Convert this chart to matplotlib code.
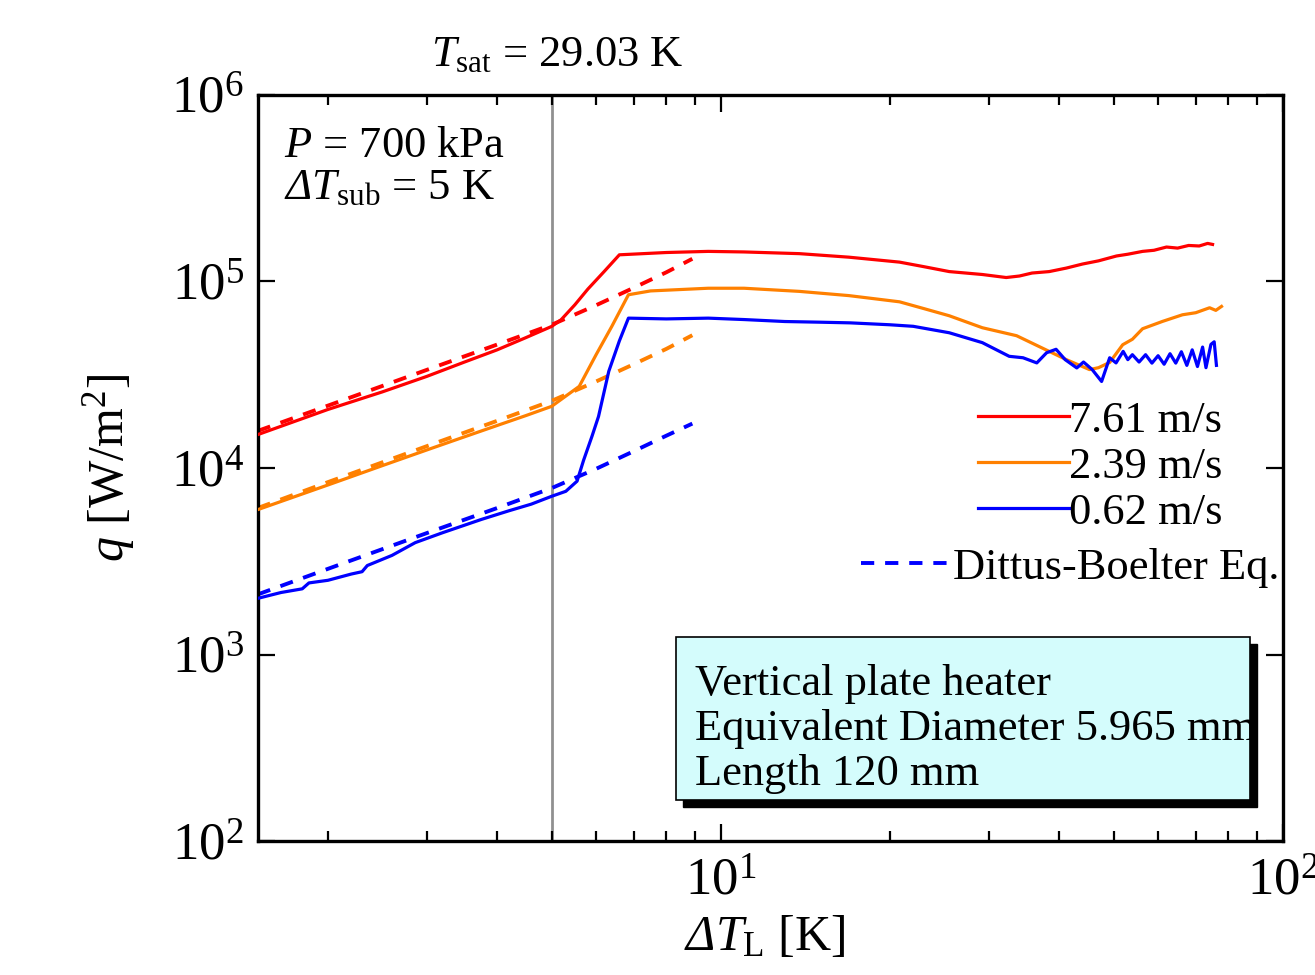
import matplotlib

matplotlib.use("Agg")
import matplotlib.pyplot as plt  # noqa: E402
from matplotlib.patches import Rectangle  # noqa: E402
from matplotlib.ticker import LogLocator, NullFormatter  # noqa: E402

# --- data ------------------------------------------------------------------
# 7.61 m/s (red)
dT_761 = [1.5, 2.0, 2.5, 3.0, 3.5, 4.0, 4.5, 5.0, 5.2, 5.5, 5.8, 6.2, 6.6, 8.0,
          9.5, 11.0, 13.8, 16.9, 20.8, 23.0, 25.5, 29.2, 32.2, 34.0, 35.8,
          38.4, 41.2, 44.0, 47.0, 50.6, 53.0, 56.3, 59.0, 62.1, 65.0, 68.0,
          71.0, 73.5, 75.0]
q_761 = [15100, 20600, 25600, 31000, 37000, 43000, 50000, 57400, 62400, 75000,
         91000, 113000, 139000, 143000, 145000, 144000, 141000, 135000,
         127000, 120000, 113000, 109000, 105000, 107000, 111000, 113000,
         118000, 124000, 129000, 137000, 140000, 145000, 147000, 153000,
         151000, 156000, 155000, 160000, 158000]

# 2.39 m/s (orange)
dT_239 = [1.5, 2.0, 2.5, 3.0, 3.5, 4.0, 4.5, 5.0, 5.6, 6.0, 6.4, 6.85, 7.5,
          9.5, 11.0, 13.8, 16.9, 20.8, 23.0, 25.5, 29.2, 33.6, 38.4, 41.2,
          45.3, 47.0, 49.2, 51.9, 54.0, 56.3, 61.1, 66.3, 70.0, 74.1, 76.0,
          77.8]
q_239 = [5980, 8110, 10300, 12500, 14700, 16900, 19100, 21400, 27400, 40500,
         57500, 84900, 89000, 92000, 92000, 88500, 84000, 77800, 71500, 65500,
         56500, 51200, 42200, 38100, 33700, 34500, 36800, 45800, 49000, 55800,
         61100, 66300, 68000, 72300, 70000, 73500]

# 0.62 m/s (blue)
dT_062 = [1.5, 1.65, 1.8, 1.85, 2.0, 2.2, 2.3, 2.35, 2.6, 2.86, 3.2, 3.75,
          4.2, 4.6, 5.0, 5.3, 5.55, 5.7, 5.9, 6.06, 6.32, 6.6, 6.85, 8.0, 9.5,
          11.0, 13.0, 15.0, 17.0, 20.0, 22.0, 25.5, 29.2, 32.6, 34.5, 36.5,
          38.0, 39.5, 41.0, 43.0, 44.2, 45.8, 47.6, 49.2, 50.5, 52.0, 53.0,
          54.0, 55.5, 57.0, 58.5, 60.0, 61.5, 63.0, 64.5, 66.0, 67.5, 69.0,
          70.5, 72.0, 73.0, 74.5, 75.5, 76.2]
q_062 = [2000, 2150, 2250, 2420, 2500, 2700, 2780, 3000, 3400, 3980, 4500,
         5300, 5900, 6400, 7050, 7500, 8500, 11000, 14800, 18900, 33000, 48000,
         63600, 63000, 63600, 62500, 61000, 60500, 60000, 58600, 57500, 53100,
         47000, 39700, 39000, 36600, 41500, 43300, 38100, 34400, 37000, 33700,
         29100, 39000, 36600, 42200, 38100, 40500, 37000, 40500, 36500, 40000,
         36000, 41000, 36500, 42000, 35500, 43000, 35000, 44500, 34500, 46000,
         47500, 35500]

# Dittus-Boelter correlation (dashed)
dT_db = [1.5, 2.0, 3.0, 4.0, 5.0, 6.0, 7.0, 8.0, 8.9]
q_db_761 = [15800, 21600, 33600, 45900, 58600, 74600, 92500, 112000, 132300]
q_db_239 = [6100, 8400, 13100, 17900, 22900, 29100, 36000, 43500, 51500]
q_db_062 = [2100, 2880, 4480, 6100, 7800, 9900, 12300, 14900, 17300]

labels = ["7.61 m/s", "2.39 m/s", "0.62 m/s"]
colors = ["#ff0000", "#ff8000", "#0000ff"]
T_line = 5.0

# --- styling ---------------------------------------------------------------
plt.rcParams["font.family"] = ["Liberation Serif", "DejaVu Serif"]
plt.rcParams["mathtext.fontset"] = "custom"
plt.rcParams["mathtext.rm"] = "Liberation Serif"
plt.rcParams["mathtext.it"] = "Liberation Serif:italic"
plt.rcParams["mathtext.bf"] = "Liberation Serif:bold"
# \mathsf is used only to get a slanted capital Delta (mathit forces it upright)
plt.rcParams["mathtext.sf"] = "Liberation Serif:italic"

fig = plt.figure(figsize=(13.15, 9.75), dpi=100)
ax = fig.add_axes([0.196, 0.1374, 0.7795, 0.7652])

ax.axvline(T_line, color="#909090", lw=2.0, zorder=1)

for x, q, c, lab in zip([dT_761, dT_239, dT_062], [q_761, q_239, q_062],
                        colors, labels):
    ax.plot(x, q, color=c, lw=2.3, label=lab, zorder=3)

db_lines = []
for q, c in zip([q_db_761, q_db_239, q_db_062], colors):
    (ln,) = ax.plot(dT_db, q, color=c, lw=2.8, ls=(0, (3.4, 2.8)), zorder=2)
    db_lines.append(ln)

ax.set_xscale("log")
ax.set_yscale("log")
ax.set_xlim(1.5, 100)
ax.set_ylim(1e2, 1e6)

ax.xaxis.set_major_locator(LogLocator(base=10, numticks=10))
ax.xaxis.set_minor_locator(LogLocator(base=10, subs=range(2, 10), numticks=20))
ax.xaxis.set_minor_formatter(NullFormatter())
ax.yaxis.set_minor_locator(plt.NullLocator())

ax.tick_params(which="both", direction="in", top=True, right=True,
               width=1.6, labelsize=38)
ax.tick_params(which="major", length=12)
ax.tick_params(which="minor", length=7)
ax.tick_params(axis="x", pad=12)
ax.tick_params(axis="y", pad=10)
for s in ax.spines.values():
    s.set_linewidth(2.4)

ax.set_xlabel(r"$\mathsf{Δ}\mathit{T}_\mathrm{L}$ [K]", fontsize=36)
ax.xaxis.set_label_coords(0.495, -0.098)
ax.set_ylabel(r"$q$ [W/m$^2$]", fontsize=36)
ax.yaxis.set_label_coords(-0.118, 0.5)

ax.text(0.2927, 1.054, r"$T_\mathrm{sat}$ = 29.03 K", transform=ax.transAxes,
        ha="center", va="center", fontsize=32)
ax.text(0.026, 0.932, r"$P$ = 700 kPa", transform=ax.transAxes,
        ha="left", va="center", fontsize=32)
ax.text(0.026, 0.875, r"$\mathsf{Δ}\mathit{T}_\mathrm{sub}$ = 5 K",
        transform=ax.transAxes, ha="left", va="center", fontsize=32)

leg1 = ax.legend(loc="upper left", bbox_to_anchor=(0.7024, 0.59), frameon=False,
                 fontsize=32, handlelength=2.05, handletextpad=0.0,
                 labelspacing=0.13, borderpad=0, borderaxespad=0)
ax.add_artist(leg1)
ax.legend([db_lines[2]], ["Dittus-Boelter Eq."], loc="center left",
          bbox_to_anchor=(0.589, 0.366), frameon=False, fontsize=32,
          handlelength=2.05, handletextpad=0.0, borderpad=0, borderaxespad=0)

# info box with drop shadow
bx0, by0, bw, bh = 0.4078, 0.055, 0.56, 0.2185
ax.add_patch(Rectangle((bx0 + 0.0068, by0 - 0.0094), bw, bh,
                       transform=ax.transAxes, facecolor="black",
                       edgecolor="black", zorder=5))
ax.add_patch(Rectangle((bx0, by0), bw, bh, transform=ax.transAxes,
                       facecolor="#d4fcfc", edgecolor="black", lw=1.2,
                       zorder=6))
for i, line in enumerate(["Vertical plate heater",
                          "Equivalent Diameter 5.965 mm",
                          "Length 120 mm"]):
    ax.text(bx0 + 0.0185, 0.211 - i * 0.0605, line, transform=ax.transAxes,
            ha="left", va="center", fontsize=32, zorder=7)

fig.savefig("out.png", dpi=100)
